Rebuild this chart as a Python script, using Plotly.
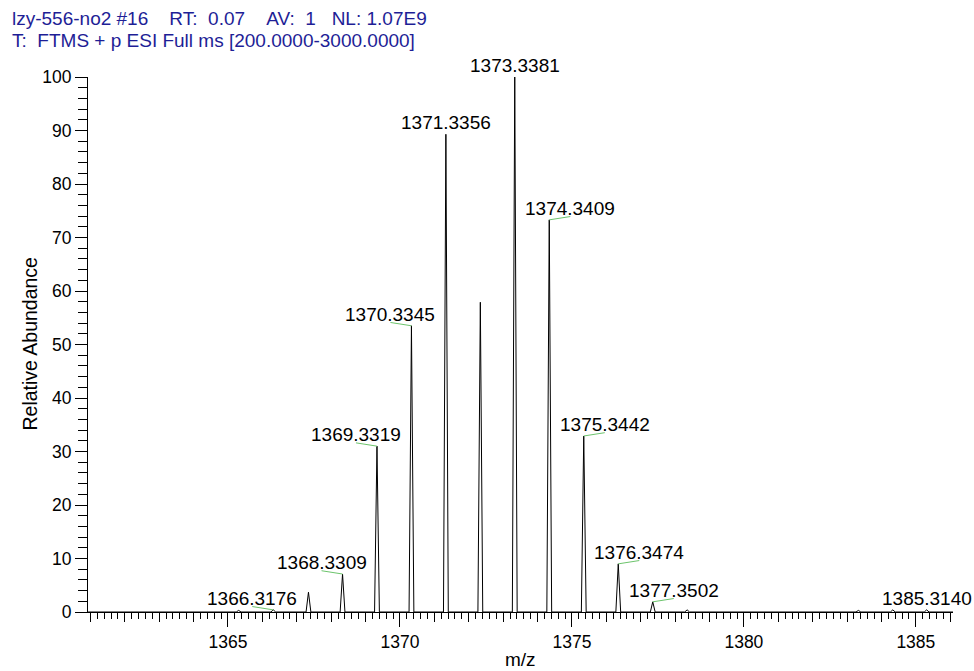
import plotly.graph_objects as go

# Centroid list of the isotope cluster (m/z, relative abundance %)
mz = [1365.31, 1366.3176, 1367.34, 1368.3309, 1369.3319, 1370.3345, 1371.3356,
      1372.337, 1373.3381, 1374.3409, 1375.3442, 1376.3474, 1377.3502,
      1378.35, 1383.33, 1384.33, 1385.3140]
abundance = [0.3, 0.4, 3.7, 7.1, 31.0, 53.5, 89.3,
             57.9, 100.0, 73.3, 32.9, 9.0, 1.9,
             0.4, 0.3, 0.4, 0.4]

# Peaks carrying an m/z label
label_mz = [1366.3176, 1368.3309, 1369.3319, 1370.3345, 1371.3356, 1373.3381,
            1374.3409, 1375.3442, 1376.3474, 1377.3502, 1385.3140]
label_text = ["1366.3176", "1368.3309", "1369.3319", "1370.3345", "1371.3356",
              "1373.3381", "1374.3409", "1375.3442", "1376.3474", "1377.3502",
              "1385.3140"]
# -1: label to the left of the apex, 0: centred above, +1: to the right
label_side = [-1, -1, -1, -1, 0, 0, 1, 1, 1, 1, 0]

NB = "\u00a0"
header_1 = ("lzy-556-no2 #16" + NB * 4 + "RT:" + NB * 2 + "0.07" + NB * 4 + "AV:" + NB * 2 + "1"
            + NB * 3 + "NL:" + NB + "1.07E9")
header_2 = "T:" + NB + " FTMS + p ESI Full ms [200.0000-3000.0000]"

X_RANGE = [1360.93, 1386.08]
Y_RANGE = [0, 100]
HALF_WIDTH = 0.07  # half base width of each profile peak (m/z units)

FONT = "Liberation Sans, Arial, sans-serif"
W, H = 974, 671
ML, MR, MT, MB = 88, 21, 77, 59
PW, PH = W - ML - MR, H - MT - MB


def px_x(px):
    return (px - ML) / PW


def px_y(py):
    return (H - MB - py) / PH


# Build one continuous profile trace: baseline with a narrow peak at each centroid
prof_x, prof_y = [X_RANGE[0]], [0]
for c, h in sorted(zip(mz, abundance)):
    prof_x += [c - HALF_WIDTH, c, c + HALF_WIDTH]
    prof_y += [0, h, 0]
prof_x.append(X_RANGE[1])
prof_y.append(0)

fig = go.Figure()
fig.add_trace(go.Scatter(x=prof_x, y=prof_y, mode="lines",
                         line=dict(color="black", width=1),
                         hoverinfo="skip", showlegend=False))
# helper trace for the unit-tick overlay axis
fig.add_trace(go.Scatter(x=[X_RANGE[0]], y=[0], xaxis="x2", mode="markers",
                         marker=dict(opacity=0), hoverinfo="skip", showlegend=False))

peak_height = dict(zip(mz, abundance))
for m, t, s in zip(label_mz, label_text, label_side):
    h = peak_height[m]
    fig.add_annotation(x=m, y=h, xref="x", yref="y", text=t, showarrow=False,
                       xshift=21 * s, yshift=11.5, xanchor="center", yanchor="middle",
                       font=dict(family=FONT, size=19, color="black"))
    if s != 0:
        fig.add_shape(type="line", xref="x", yref="y",
                      xsizemode="pixel", ysizemode="pixel",
                      xanchor=m, yanchor=h, x0=0, y0=0, x1=21 * s, y1=3.3,
                      line=dict(color="#6cc46c", width=1))

fig.add_annotation(x=px_x(10), y=px_y(18.5), xref="paper", yref="paper", text=header_1,
                   showarrow=False, xanchor="left", yanchor="middle",
                   font=dict(family=FONT, size=19, color="#1e1e96"))
fig.add_annotation(x=px_x(10), y=px_y(40.5), xref="paper", yref="paper", text=header_2,
                   showarrow=False, xanchor="left", yanchor="middle",
                   font=dict(family=FONT, size=19, color="#1e1e96"))

fig.add_annotation(x=px_x(29), y=0.5, xref="paper", yref="paper", text="Relative Abundance",
                   textangle=-90, showarrow=False, xanchor="center", yanchor="middle",
                   font=dict(family=FONT, size=19.5, color="black"))
fig.add_annotation(x=0.5, y=px_y(659.5), xref="paper", yref="paper", text="m/z",
                   showarrow=False, xanchor="center", yanchor="middle",
                   font=dict(family=FONT, size=19, color="black"))

fig.update_layout(
    width=W, height=H,
    margin=dict(l=ML, r=MR, t=MT, b=MB, pad=0),
    paper_bgcolor="white", plot_bgcolor="white",
    font=dict(family=FONT, size=17.5, color="black"),
    xaxis=dict(range=X_RANGE, showline=True, linecolor="black", linewidth=1,
               ticks="outside", ticklen=14, tickwidth=1, tickcolor="black",
               tick0=1365, dtick=5, showgrid=False, zeroline=False,
               tickfont=dict(family=FONT, size=17.5, color="black"),
               minor=dict(dtick=0.2, ticks="outside", ticklen=6, tickwidth=1,
                          tickcolor="black", showgrid=False)),
    xaxis2=dict(range=X_RANGE, overlaying="x", anchor="y", side="bottom",
                showline=False, showgrid=False, zeroline=False,
                ticks="outside", ticklen=9, tickwidth=1, tickcolor="black",
                tick0=1365, dtick=1, showticklabels=False),
    yaxis=dict(range=Y_RANGE, showline=True, linecolor="black", linewidth=1,
               ticks="outside", ticklen=12, tickwidth=1, tickcolor="black",
               dtick=10, showgrid=False, zeroline=False,
               tickfont=dict(family=FONT, size=17.5, color="black"),
               minor=dict(dtick=2, ticks="outside", ticklen=9, tickwidth=1,
                          tickcolor="black", showgrid=False)),
)

fig.write_html("out.html")
